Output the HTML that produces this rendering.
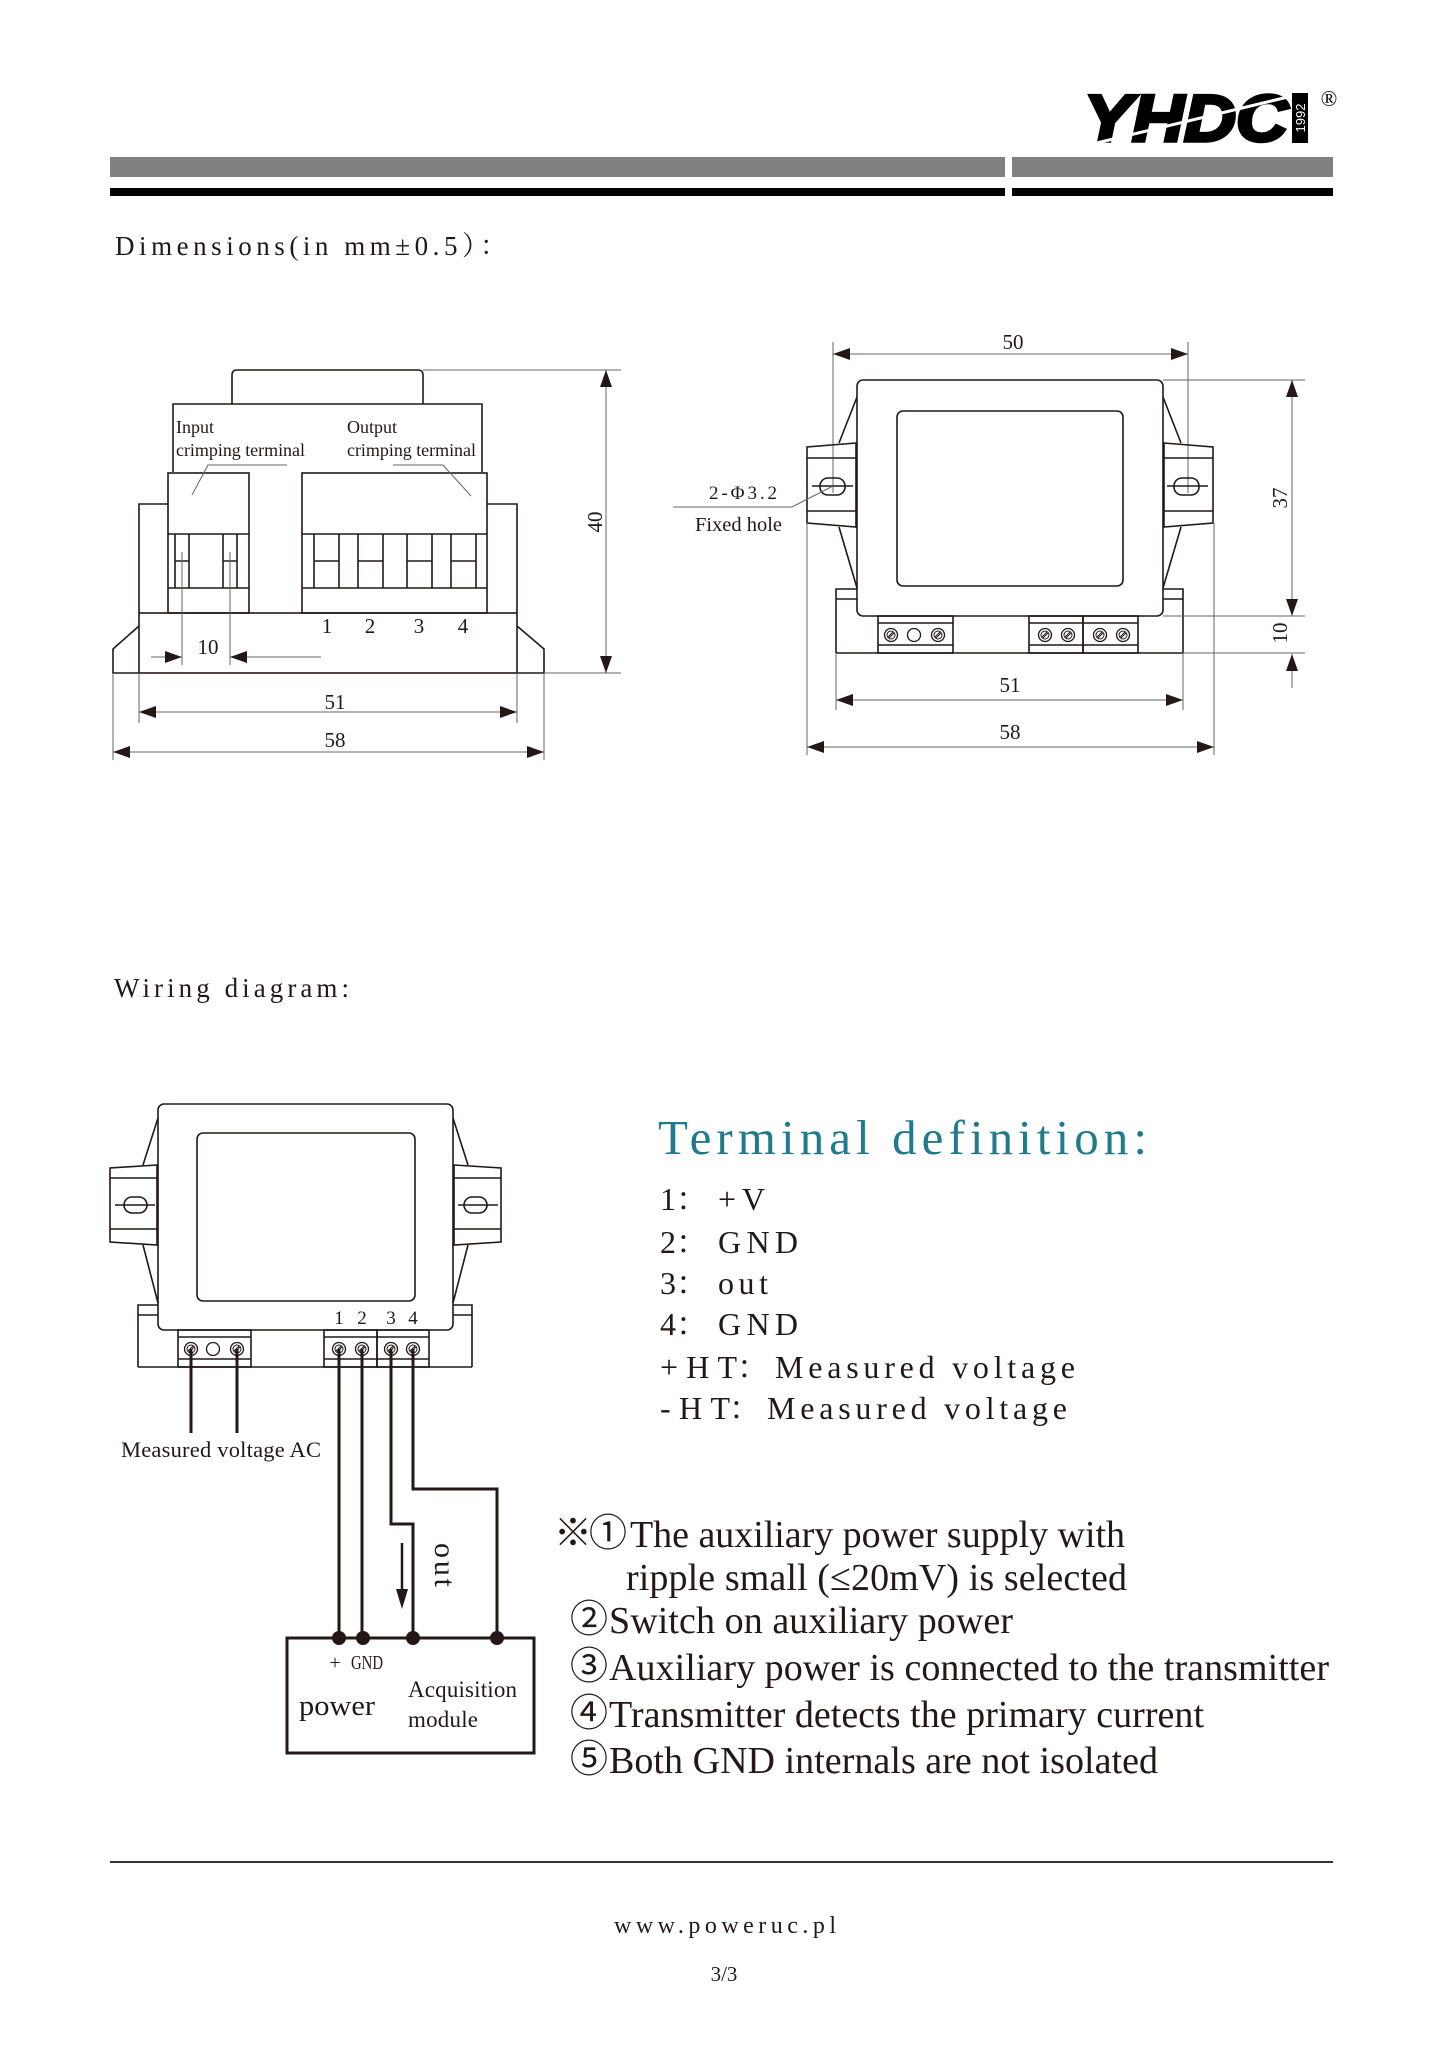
<!DOCTYPE html>
<html>
<head>
<meta charset="utf-8">
<style>
html,body{margin:0;padding:0;background:#fff;}
svg{display:block;}
.k{fill:none;stroke:#231815;stroke-width:1.6;}
.d{fill:none;stroke:#666;stroke-width:1;}
.w{fill:none;stroke:#231815;stroke-width:3;}
.a{fill:#231815;stroke:none;}
.t{font-family:"Liberation Serif","Noto Serif CJK SC",serif;fill:#231815;}
.c{font-family:"Liberation Serif","Noto Sans CJK SC",serif;fill:#231815;}
</style>
</head>
<body>
<svg width="1447" height="2048" viewBox="0 0 1447 2048" xmlns="http://www.w3.org/2000/svg">
<rect x="0" y="0" width="1447" height="2048" fill="#fff"/>
<defs>
<g id="sc"><circle cx="0" cy="0" r="6.5" fill="none" stroke="#231815" stroke-width="1.3"/><circle cx="0" cy="0" r="4" fill="none" stroke="#231815" stroke-width="1"/><path d="M-3,2 L2,-3 M-2,3 L3,-2" stroke="#231815" stroke-width="1" fill="none"/></g>
<g id="oc"><circle cx="0" cy="0" r="6.5" fill="none" stroke="#231815" stroke-width="1.3"/></g>
</defs>

<!-- HEADER -->
<text x="1084" y="141" font-family="Liberation Sans, sans-serif" font-weight="bold" font-style="italic" font-size="66" textLength="204" lengthAdjust="spacingAndGlyphs" fill="#000" stroke="#000" stroke-width="3.5" stroke-linejoin="miter">YHDC</text>
<line x1="1080" y1="147" x2="1292" y2="96" stroke="#fff" stroke-width="3"/>
<rect x="1292" y="93" width="16" height="50" fill="#000"/>
<text transform="translate(1305,118) rotate(-90)" text-anchor="middle" font-family="Liberation Sans, sans-serif" font-size="13" fill="#fff">1992</text>
<text x="1329" y="106" text-anchor="middle" font-family="Liberation Serif, serif" font-size="22" fill="#000">®</text>
<rect x="110" y="157" width="895" height="20" fill="#808080"/>
<rect x="1012" y="157" width="321" height="20" fill="#808080"/>
<rect x="110" y="188" width="895" height="8" fill="#000"/>
<rect x="1012" y="188" width="321" height="8" fill="#000"/>

<text class="t" x="115" y="255" font-size="27" textLength="392" lengthAdjust="spacing">Dimensions(in mm±0.5）：</text>

<!-- LEFT DRAWING -->
<path class="k" d="M232,404 V375 Q232,370 237,370 H418 Q423,370 423,375 V404"/>
<path class="k" d="M173,472 V404 H482 V472"/>
<rect class="k" x="168" y="473" width="81" height="140"/>
<path class="k" d="M168,534 H249 M168,588 H249"/>
<rect class="k" x="302" y="473" width="185" height="140"/>
<path class="k" d="M302,534 H487 M302,588 H487"/>
<path class="k" d="M175,534 V588 M189,534 V588 M175,561 H189 M223,534 V588 M237,534 V588 M223,561 H237 M314,534 V588 M339,534 V588 M314,561 H339 M358,534 V588 M383,534 V588 M358,561 H383 M407,534 V588 M432,534 V588 M407,561 H432 M451,534 V588 M476,534 V588 M451,561 H476"/>
<path class="k" d="M168,504 H139 V613 M487,504 H517 V613"/>
<rect class="k" x="139" y="613" width="378" height="60"/>
<path class="k" d="M139,626 L113,649 V673 H139 M517,626 L544,649 V673 H517"/>
<path class="d" d="M423,370 H621 M544,673 H621 M139,673 V723 M517,673 V723 M113,673 V760 M544,673 V760 M182,552 V665 M230,552 V665"/>
<path class="d" d="M606,370 V673 M139,712 H517 M113,752 H544 M151,657 H182 M230,657 H321"/>
<path class="d" d="M287,465 H208 L192,495 M393,465 H443 L471,496"/>
<polygon class="a" points="165,651 182,657 165,663"/>
<polygon class="a" points="247,651 230,657 247,663"/>
<polygon class="a" points="156,706 139,712 156,718"/>
<polygon class="a" points="500,706 517,712 500,718"/>
<polygon class="a" points="130,746 113,752 130,758"/>
<polygon class="a" points="527,746 544,752 527,758"/>
<polygon class="a" points="600,387 606,370 612,387"/>
<polygon class="a" points="600,656 606,673 612,656"/>
<text class="t" x="176" y="433" font-size="18">Input</text>
<text class="t" x="176" y="456" font-size="18" textLength="129" lengthAdjust="spacing">crimping terminal</text>
<text class="t" x="347" y="433" font-size="18">Output</text>
<text class="t" x="347" y="456" font-size="18" textLength="129" lengthAdjust="spacing">crimping terminal</text>
<g class="t" font-size="21" text-anchor="middle">
<text x="327" y="633">1</text><text x="370" y="633">2</text><text x="419" y="633">3</text><text x="463" y="633">4</text>
<text x="208" y="654">10</text>
<text x="335" y="709">51</text>
<text x="335" y="747">58</text>
<text transform="translate(595,522) rotate(-90)" dy="7">40</text>
</g>

<!-- RIGHT DRAWING -->
<path class="d" d="M833,342 V493 M1188,342 V493 M833,354 H1188"/>
<polygon class="a" points="850,348 833,354 850,360"/>
<polygon class="a" points="1171,348 1188,354 1171,360"/>
<path class="k" d="M857,397 L839,443 M839,527 L857,588 M1163,397 L1181,443 M1181,527 L1163,588"/>
<path class="k" d="M856,443 L807,447 V523 L856,527 Z M807,458 H856 M807,511 H856"/>
<path class="k" d="M1164,443 L1213,447 V523 L1164,527 Z M1164,458 H1213 M1164,511 H1213"/>
<rect class="k" x="820" y="478" width="25" height="17" rx="8"/>
<rect class="k" x="1174" y="478" width="25" height="17" rx="8"/>
<path class="k" d="M812,486 H853 M1167,486 H1208" stroke-width="1.2"/>
<path class="d" d="M673,507 H792 L833,486"/>
<path class="k" d="M836,653 V589 H857 M836,599 H857 M1183,653 V589 H1163 M1163,599 H1183 M836,653 H1183"/>
<rect class="k" x="857" y="380" width="306" height="236" rx="6" fill="#fff"/>
<rect class="k" x="897" y="411" width="226" height="175" rx="6"/>
<rect class="k" x="878" y="616" width="75" height="37"/>
<path class="k" d="M878,623 H953 M878,645 H953"/>
<rect class="k" x="1029" y="616" width="54" height="37"/>
<rect class="k" x="1083" y="616" width="55" height="37"/>
<path class="k" d="M1029,623 H1138 M1029,645 H1138"/>
<use href="#sc" x="891" y="635"/><use href="#oc" x="914" y="635"/><use href="#sc" x="938" y="635"/>
<use href="#sc" x="1045" y="635"/><use href="#sc" x="1068" y="635"/><use href="#sc" x="1100" y="635"/><use href="#sc" x="1123" y="635"/>
<path class="d" d="M1163,380 H1305 M1163,616 H1305 M1183,653 H1305 M1292,380 V616 M1292,654 V688"/>
<polygon class="a" points="1286,397 1292,380 1298,397"/>
<polygon class="a" points="1286,599 1292,616 1298,599"/>
<polygon class="a" points="1286,671 1292,654 1298,671"/>
<path class="d" d="M836,653 V710 M1183,653 V710 M836,700 H1183 M807,523 V755 M1214,523 V755 M807,747 H1214"/>
<polygon class="a" points="853,694 836,700 853,706"/>
<polygon class="a" points="1166,694 1183,700 1166,706"/>
<polygon class="a" points="824,741 807,747 824,753"/>
<polygon class="a" points="1197,741 1214,747 1197,753"/>
<g class="t" font-size="21" text-anchor="middle">
<text x="1013" y="349">50</text>
<text x="1010" y="692">51</text>
<text x="1010" y="739">58</text>
<text transform="translate(1280,498) rotate(-90)" dy="7">37</text>
<text transform="translate(1280,633) rotate(-90)" dy="7">10</text>
</g>
<text class="t" x="709" y="499" font-size="19" textLength="68" lengthAdjust="spacing">2-Φ3.2</text>
<text class="t" x="695" y="531" font-size="20" textLength="87" lengthAdjust="spacingAndGlyphs">Fixed hole</text>

<text class="t" x="114" y="997" font-size="27" textLength="235" lengthAdjust="spacing">Wiring diagram:</text>

<!-- WIRING DEVICE -->
<path class="k" d="M158,1118 L143,1165 M143,1245 L158,1303 M453,1118 L468,1165 M468,1245 L453,1303"/>
<path class="k" d="M157,1165 L110,1168 V1242 L157,1245 Z M110,1178 H157 M110,1229 H157"/>
<path class="k" d="M454,1165 L501,1168 V1242 L454,1245 Z M454,1178 H501 M454,1229 H501"/>
<rect class="k" x="124" y="1197" width="23" height="16" rx="8"/>
<rect class="k" x="464" y="1197" width="23" height="16" rx="8"/>
<path class="k" d="M115,1205 H155 M458,1205 H498" stroke-width="1.2"/>
<path class="k" d="M138,1367 V1305 H158 M138,1315 H158 M472,1367 V1305 H453 M453,1315 H472 M138,1367 H472"/>
<rect class="k" x="158" y="1104" width="295" height="226" rx="6" fill="#fff"/>
<rect class="k" x="197" y="1133" width="218" height="168" rx="6"/>
<rect class="k" x="178" y="1330" width="73" height="37"/>
<path class="k" d="M178,1337 H251 M178,1359 H251"/>
<rect class="k" x="324" y="1330" width="53" height="37"/>
<rect class="k" x="377" y="1330" width="52" height="37"/>
<path class="k" d="M324,1337 H429 M324,1359 H429"/>
<use href="#sc" x="191" y="1349"/><use href="#oc" x="213" y="1349"/><use href="#sc" x="237" y="1349"/>
<use href="#sc" x="339" y="1349"/><use href="#sc" x="362" y="1349"/><use href="#sc" x="391" y="1349"/><use href="#sc" x="413" y="1349"/>
<g class="t" font-size="19" text-anchor="middle">
<text x="339" y="1324">1</text><text x="362" y="1324">2</text><text x="391" y="1324">3</text><text x="413" y="1324">4</text>
</g>
<path class="w" d="M191,1349 V1433 M237,1349 V1433 M339,1349 V1638 M362,1349 V1638 M391,1349 V1524 H413 V1638 M413,1349 V1489 H497 V1638"/>
<rect class="w" x="287" y="1638" width="247" height="115"/>
<circle class="a" cx="339" cy="1638" r="7"/>
<circle class="a" cx="363" cy="1638" r="7"/>
<circle class="a" cx="413" cy="1638" r="7"/>
<circle class="a" cx="497" cy="1638" r="7"/>
<path d="M402,1543 V1594" stroke="#231815" stroke-width="2.5" fill="none"/>
<polygon class="a" points="396,1589 408,1589 402,1609"/>
<text class="t" transform="translate(433,1565) rotate(90)" text-anchor="middle" dy="-2" font-size="30" textLength="44" lengthAdjust="spacing">out</text>
<text class="t" x="121" y="1457" font-size="22.5" textLength="200" lengthAdjust="spacing">Measured voltage AC</text>
<text class="t" x="335" y="1669" font-size="20" text-anchor="middle">+</text>
<text class="t" x="351" y="1669" font-size="20" textLength="32" lengthAdjust="spacingAndGlyphs">GND</text>
<text class="t" x="299" y="1715" font-size="28" textLength="76" lengthAdjust="spacingAndGlyphs">power</text>
<text class="t" x="408" y="1697" font-size="23" textLength="109" lengthAdjust="spacing">Acquisition</text>
<text class="t" x="408" y="1727" font-size="23" textLength="70" lengthAdjust="spacing">module</text>

<!-- TERMINAL DEFINITION -->
<text x="658" y="1154" font-family="Liberation Serif, serif" font-size="49" fill="#1f7a8b" textLength="489" lengthAdjust="spacing">Terminal definition:</text>
<g class="t" font-size="32">
<text x="660" y="1210">1：</text><text x="718" y="1210" textLength="47" lengthAdjust="spacing">+V</text>
<text x="660" y="1253">2：</text><text x="718" y="1253" textLength="80" lengthAdjust="spacing">GND</text>
<text x="660" y="1294">3：</text><text x="718" y="1294" textLength="50" lengthAdjust="spacing">out</text>
<text x="660" y="1335">4：</text><text x="718" y="1335" textLength="80" lengthAdjust="spacing">GND</text>
<text x="660" y="1378" textLength="77" lengthAdjust="spacing">+HT</text><text x="737" y="1378">：</text><text x="775" y="1378" textLength="300" lengthAdjust="spacing">Measured voltage</text>
<text x="660" y="1419" textLength="70" lengthAdjust="spacing">-HT</text><text x="729" y="1419">：</text><text x="767" y="1419" textLength="300" lengthAdjust="spacing">Measured voltage</text>
</g>

<!-- NOTES -->
<g class="c" font-size="38">
<text x="554" y="1546">※</text>
<text x="589" y="1546">①</text>
<text x="570" y="1632">②</text>
<text x="570" y="1679">③</text>
<text x="570" y="1726">④</text>
<text x="570" y="1772">⑤</text>
</g>
<g class="t" font-size="38">
<text x="630" y="1547" textLength="495" lengthAdjust="spacing">The auxiliary power supply with</text>
<text x="626" y="1590" textLength="501" lengthAdjust="spacing">ripple small (≤20mV) is selected</text>
<text x="609" y="1633" textLength="404" lengthAdjust="spacing">Switch on auxiliary power</text>
<text x="609" y="1680" textLength="720" lengthAdjust="spacing">Auxiliary power is connected to the transmitter</text>
<text x="609" y="1727" textLength="595" lengthAdjust="spacing">Transmitter detects the primary current</text>
<text x="609" y="1773" textLength="549" lengthAdjust="spacing">Both GND internals are not isolated</text>
</g>

<!-- FOOTER -->
<line x1="110" y1="1862" x2="1333" y2="1862" stroke="#333" stroke-width="2"/>
<text class="t" x="614" y="1933" font-size="24" textLength="222" lengthAdjust="spacing">www.poweruc.pl</text>
<text class="t" x="724" y="1981" font-size="21" text-anchor="middle">3/3</text>
</svg>
</body>
</html>
